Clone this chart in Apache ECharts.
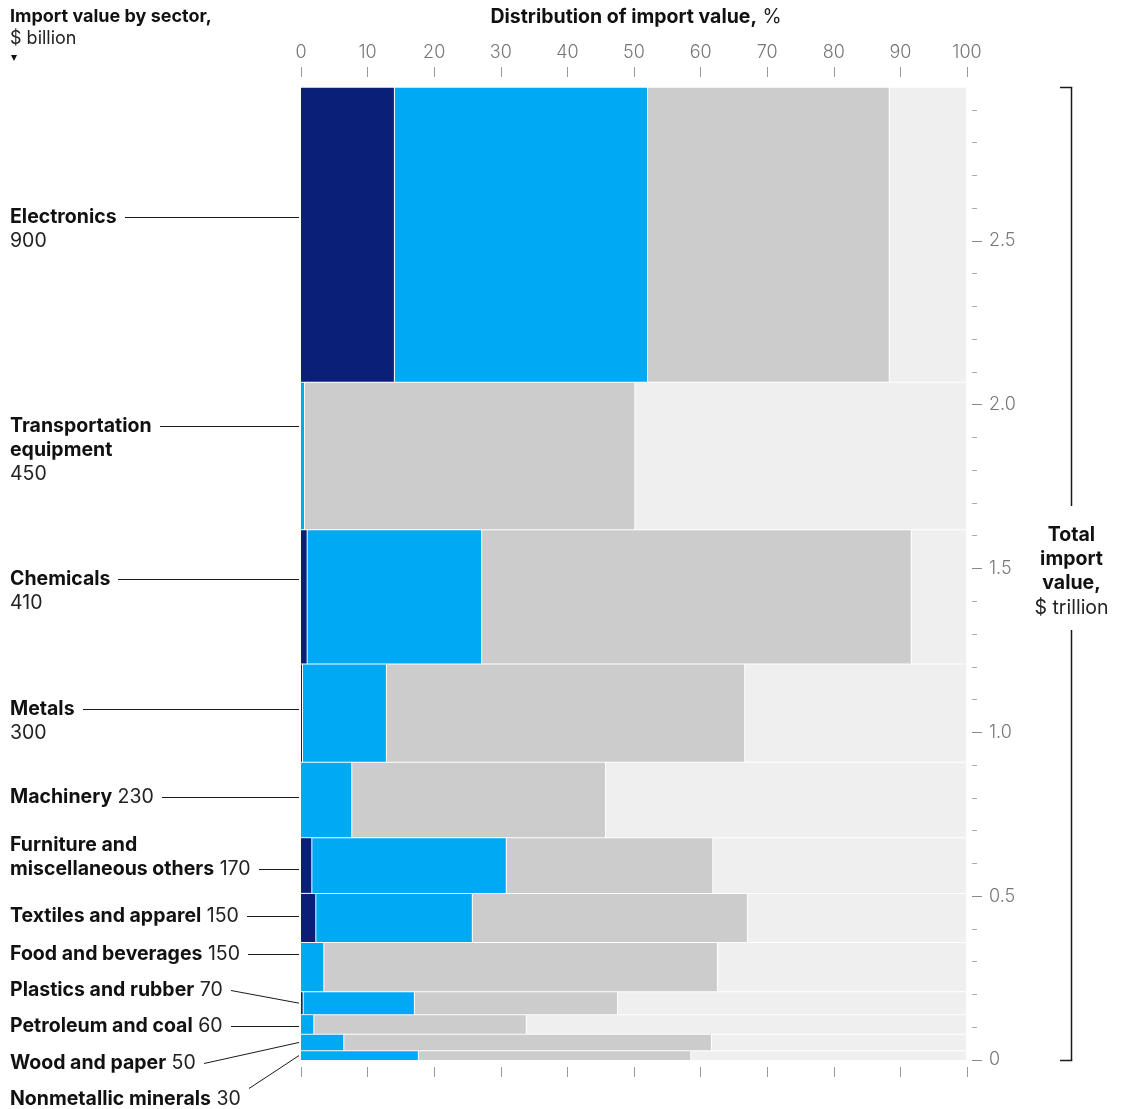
<!DOCTYPE html>
<html>
<head>
<meta charset="utf-8">
<script src="https://cdn.jsdelivr.net/npm/echarts@6/dist/echarts.min.js"></script>
<style>
  html, body { margin: 0; padding: 0; background: #fff; }
  #chart { width: 1122px; height: 1109px; }
</style>
</head>
<body>
<div id="chart"></div>
<script>
// Sectors, top to bottom
const sectors = [
  'Electronics', 'Transportation equipment', 'Chemicals', 'Metals', 'Machinery',
  'Furniture and miscellaneous others', 'Textiles and apparel', 'Food and beverages',
  'Plastics and rubber', 'Petroleum and coal', 'Wood and paper', 'Nonmetallic minerals'
];
// Import value, $ billion (sets each row's height)
const importValue = [900, 450, 410, 300, 230, 170, 150, 150, 70, 60, 50, 30];
// Distribution of import value, % (left to right within each row)
const shareNavy  = [14.1, 0,    1.0,  0.3,  0,    1.7,  2.3,  0,    0.4,  0,    0,    0];
const shareBlue  = [38.0, 0.6,  26.2, 12.6, 7.7,  29.2, 23.5, 3.5,  16.7, 2.0,  6.5,  17.7];
const shareGray  = [36.3, 49.6, 64.5, 53.8, 38.1, 31.0, 41.3, 59.1, 30.5, 31.9, 55.2, 40.9];
const shareLight = [11.6, 49.8, 8.3,  33.3, 54.2, 38.1, 32.9, 37.4, 52.4, 66.1, 38.3, 41.4];
// Tick labels
const pctTicks = [0, 10, 20, 30, 40, 50, 60, 70, 80, 90, 100];
const trillionTicks = [0, 0.5, 1.0, 1.5, 2.0, 2.5];

const FONT = 'Inter, "Liberation Sans", "DejaVu Sans", sans-serif';
const FS = 19.5;
const segColors = ['#0a1f78', '#00a9f4', '#cccccc', '#efefef'];
const segShares = [shareNavy, shareBlue, shareGray, shareLight];

// Row extents in $ trillion, stacked from the bottom row upward
const rowBottom = [], rowTop = [];
{
  let acc = 0;
  for (let i = sectors.length - 1; i >= 0; i--) {
    rowBottom[i] = acc / 1000;
    acc += importValue[i];
    rowTop[i] = acc / 1000;
  }
}
const totalTrillion = rowTop[0];

// One data row per sector: [x start %, x end %, y bottom, y top]
function segmentData(k) {
  return sectors.map((name, i) => {
    let start = 0;
    for (let j = 0; j < k; j++) start += segShares[j][i];
    return { name, value: [start, start + segShares[k][i], rowBottom[i], rowTop[i]] };
  });
}

function renderCell(params, api) {
  const lt = api.coord([api.value(0), api.value(3)]);
  const rb = api.coord([api.value(1), api.value(2)]);
  const w = rb[0] - lt[0];
  if (w <= 0) return null;
  return {
    type: 'rect',
    shape: { x: lt[0], y: lt[1] + 1, width: Math.max(w - 1, 1), height: rb[1] - lt[1] - 1 },
    style: { fill: api.visual('color') }
  };
}

const chart = echarts.init(document.getElementById('chart'), null, { renderer: 'canvas' });

const tickStyle = { color: '#9a9a9a', width: 1 };
chart.setOption({
  animation: false,
  textStyle: { fontFamily: FONT },
  grid: { left: 301, right: 155, top: 77, bottom: 49 },
  xAxis: [
    {
      type: 'value', position: 'top', min: 0, max: 100, interval: 10,
      axisLine: { show: false, onZero: false },
      axisTick: { show: true, length: 10, lineStyle: tickStyle },
      axisLabel: { margin: 15, color: '#777', fontSize: 18, fontFamily: FONT, fontWeight: 300 },
      splitLine: { show: false }
    },
    {
      type: 'value', position: 'bottom', min: 0, max: 100, interval: 10, offset: 7,
      axisLine: { show: false, onZero: false },
      axisTick: { show: true, length: 10, lineStyle: tickStyle },
      axisLabel: { show: false },
      splitLine: { show: false }
    }
  ],
  yAxis: {
    type: 'value', position: 'right', min: 0, max: 3, interval: 0.5, offset: 5,
    axisLine: { show: false, onZero: false },
    axisTick: { show: true, length: 10, lineStyle: { color: '#8a8a8a', width: 1 },
                customValues: trillionTicks },
    minorTick: { show: true, splitNumber: 5, length: 5, lineStyle: { color: '#aaaaaa', width: 1 } },
    axisLabel: {
      margin: 17, color: '#777', fontSize: 18, fontFamily: FONT, fontWeight: 300,
      customValues: trillionTicks,
      formatter: v => (v === 0 ? '0' : v.toFixed(1))
    },
    splitLine: { show: false }
  },
  series: segColors.map((color, k) => ({
    type: 'custom',
    xAxisIndex: 0,
    yAxisIndex: 0,
    renderItem: renderCell,
    itemStyle: { color },
    encode: { x: [0, 1], y: [2, 3] },
    data: segmentData(k)
  }))
});

// ---- Sector labels with leader lines ----
const labelLayout = [
  { y: 217, lines: ['Electronics'], valueOwnLine: true, attach: 0 },
  { y: 426, lines: ['Transportation', 'equipment'], valueOwnLine: true, attach: 0 },
  { y: 579, lines: ['Chemicals'], valueOwnLine: true, attach: 0 },
  { y: 709, lines: ['Metals'], valueOwnLine: true, attach: 0 },
  { y: 797, lines: ['Machinery'], attach: 0 },
  { y: 845, lines: ['Furniture and', 'miscellaneous others'], attach: 1 },
  { y: 916, lines: ['Textiles and apparel'], attach: 0 },
  { y: 954, lines: ['Food and beverages'], attach: 0 },
  { y: 990, lines: ['Plastics and rubber'], attach: 0 },
  { y: 1026, lines: ['Petroleum and coal'], attach: 0 },
  { y: 1063, lines: ['Wood and paper'], attach: 0 },
  { y: 1099, lines: ['Nonmetallic minerals'], attach: 0, startDy: -11 }
];
const LINE_H = 24;
const LABEL_X = 10;

const measureCtx = document.createElement('canvas').getContext('2d');
function textWidth(str, weight) {
  measureCtx.font = weight + ' ' + FS + 'px ' + FONT;
  return measureCtx.measureText(str).width;
}

const graphics = [];
const px = (x, y) => chart.convertToPixel({ gridIndex: 0 }, [x, y]);
const richText = {
  b: { fontFamily: FONT, fontSize: FS, fontWeight: 'bold', fill: '#111' },
  r: { fontFamily: FONT, fontSize: FS, fontWeight: 'normal', fill: '#222' },
  hb: { fontFamily: FONT, fontSize: 18, fontWeight: 'bold', fill: '#111' },
  hr: { fontFamily: FONT, fontSize: 18, fontWeight: 'normal', fill: '#222' }
};

labelLayout.forEach((lay, i) => {
  // assemble rows of [bold name, regular value]
  const rows = lay.lines.map(t => [t, '']);
  const valStr = String(importValue[i]);
  if (lay.valueOwnLine) rows.push(['', valStr]);
  else rows[rows.length - 1][1] = ' ' + valStr;

  rows.forEach((r, li) => {
    const y = lay.y + li * LINE_H;
    const parts = [];
    if (r[0]) parts.push('{b|' + r[0] + '}');
    if (r[1]) parts.push('{r|' + r[1] + '}');
    graphics.push({
      type: 'text', silent: true,
      style: { x: LABEL_X, y, text: parts.join(''), verticalAlign: 'middle', align: 'left', rich: richText }
    });
  });

  // leader line from the end of the attached text row to the bar's left edge
  const ar = rows[lay.attach];
  const endText = LABEL_X + textWidth(ar[0], 'bold') + (ar[1] ? textWidth(ar[1], 'normal') : 0);
  const labelLineY = Math.round(lay.y + lay.attach * LINE_H) + 0.5;
  const startY = labelLineY + (lay.startDy || 0);
  const topPx = px(0, rowTop[i])[1] + 1;
  const botPx = px(0, rowBottom[i])[1];
  let endY = labelLineY;
  if (labelLineY < topPx + 5 || labelLineY > botPx - 5) endY = (topPx + botPx) / 2;
  const barX = px(0, 0)[0] - 2;
  graphics.push({
    type: 'line', silent: true,
    shape: { x1: Math.round(endText) + 8, y1: startY, x2: barX, y2: endY },
    style: { stroke: '#1a1a1a', lineWidth: 1 }
  });
});

// ---- Headings ----
graphics.push({
  type: 'text', silent: true,
  style: { x: 10, y: 17, text: '{hb|Import value by sector,}', verticalAlign: 'middle', rich: richText }
});
graphics.push({
  type: 'text', silent: true,
  style: { x: 10, y: 39, text: '{hr|$ billion}', verticalAlign: 'middle', rich: richText }
});
graphics.push({
  type: 'polygon', silent: true,
  shape: { points: [[11, 55], [17, 55], [14, 61]] },
  style: { fill: '#111' }
});
const midX = (px(0, 0)[0] + px(100, 0)[0]) / 2;
graphics.push({
  type: 'text', silent: true,
  style: {
    x: midX + 2, y: 17, align: 'center', verticalAlign: 'middle',
    text: '{b|Distribution of import value,}{r| %}', rich: richText
  }
});

// ---- Total bracket on the right ----
const bx = 1071.5;
const bTop = Math.round(px(0, totalTrillion)[1]) + 0.5;
const bBot = Math.round(px(0, 0)[1]) + 0.5;
const bracketStyle = { stroke: '#1a1a1a', lineWidth: 1.5 };
graphics.push({ type: 'line', silent: true, shape: { x1: 1060, y1: bTop, x2: bx + 0.75, y2: bTop }, style: bracketStyle });
graphics.push({ type: 'line', silent: true, shape: { x1: bx, y1: bTop, x2: bx, y2: 506 }, style: bracketStyle });
graphics.push({ type: 'line', silent: true, shape: { x1: bx, y1: 630, x2: bx, y2: bBot }, style: bracketStyle });
graphics.push({ type: 'line', silent: true, shape: { x1: 1060, y1: bBot, x2: bx + 0.75, y2: bBot }, style: bracketStyle });
[['Total', 'b'], ['import', 'b'], ['value,', 'b'], ['$ trillion', 'r']].forEach((t, k) => {
  graphics.push({
    type: 'text', silent: true,
    style: { x: bx, y: 535 + k * 24.3, text: '{' + t[1] + '|' + t[0] + '}', align: 'center',
             verticalAlign: 'middle', rich: richText }
  });
});

chart.setOption({ graphic: graphics });
</script>
</body>
</html>
